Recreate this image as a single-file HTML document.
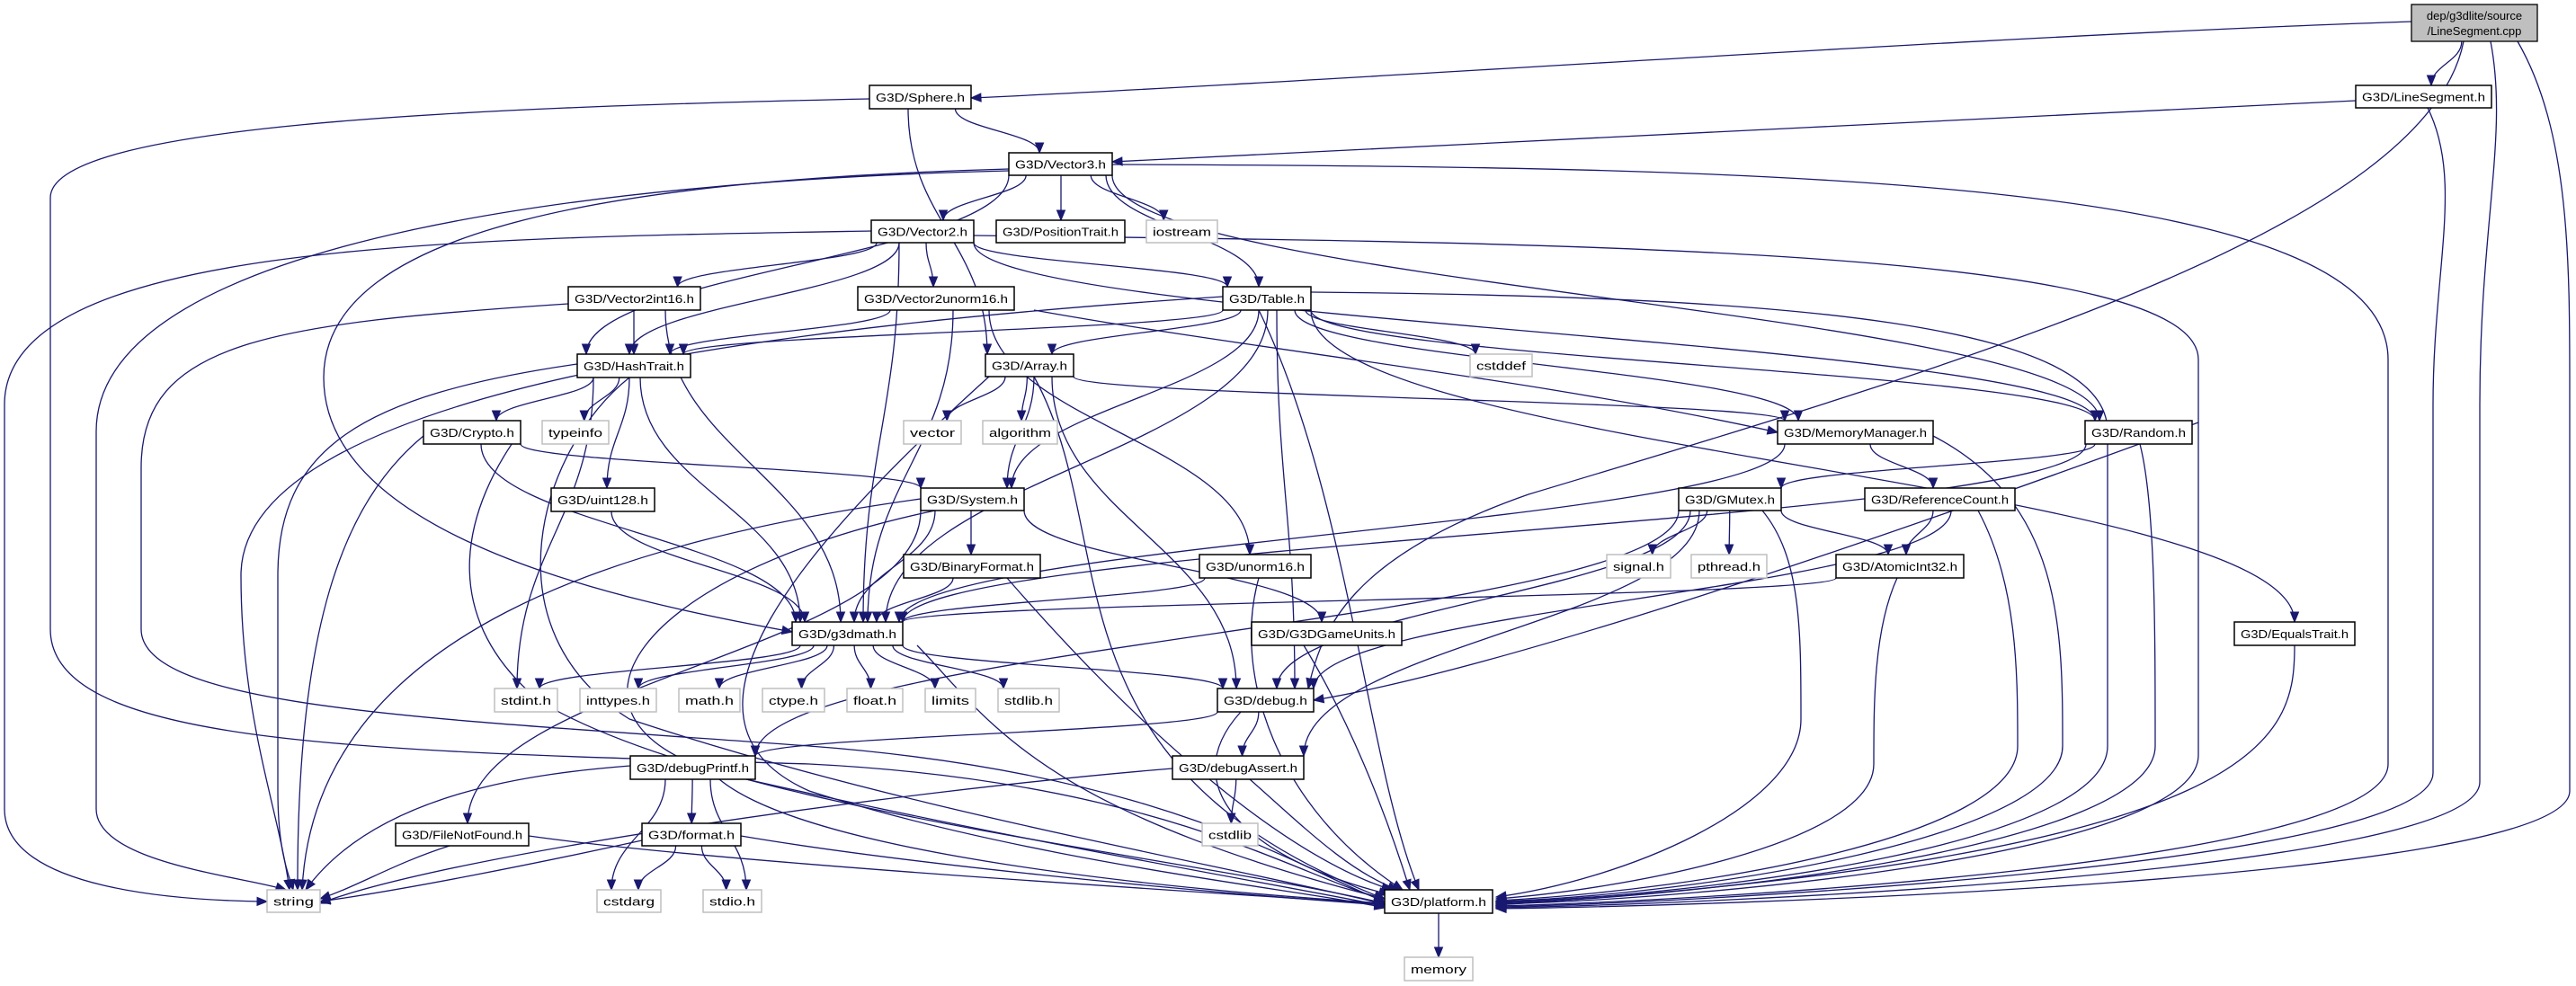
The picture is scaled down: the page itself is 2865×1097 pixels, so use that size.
<!DOCTYPE html>
<html><head><meta charset="utf-8"><style>
html,body{margin:0;padding:0;background:#fff;}
svg{display:block;}
text{font-family:"Liberation Sans","DejaVu Sans",sans-serif;font-size:13px;fill:#000;}
</style></head><body>
<svg id="g" width="2865" height="1097" viewBox="0 0 2865 1097" xmlns="http://www.w3.org/2000/svg">
<g id="edges" fill="none" stroke="#191970" stroke-width="1.3"></g>
<g id="arrows" fill="#191970" stroke="#191970" stroke-width="1"></g>
<g id="nodes">
<rect x="2682" y="5" width="140" height="41" fill="#bfbfbf" stroke="#000" stroke-width="1.3"/>
<text x="2752" y="22" text-anchor="middle">dep/g3dlite/source</text>
<text x="2752" y="39" text-anchor="middle">/LineSegment.cpp</text>
</g>
</svg>
<div style="display:none">
<span>G3D/Sphere.h</span><span>G3D/LineSegment.h</span><span>G3D/Vector3.h</span><span>G3D/Vector2.h</span><span>G3D/PositionTrait.h</span><span>iostream</span><span>G3D/Vector2int16.h</span><span>G3D/Vector2unorm16.h</span><span>G3D/Table.h</span><span>G3D/HashTrait.h</span><span>G3D/Array.h</span><span>cstddef</span><span>G3D/Crypto.h</span><span>typeinfo</span><span>vector</span><span>algorithm</span><span>G3D/MemoryManager.h</span><span>G3D/Random.h</span><span>G3D/uint128.h</span><span>G3D/System.h</span><span>G3D/GMutex.h</span><span>G3D/ReferenceCount.h</span><span>G3D/BinaryFormat.h</span><span>G3D/unorm16.h</span><span>signal.h</span><span>pthread.h</span><span>G3D/AtomicInt32.h</span><span>G3D/g3dmath.h</span><span>G3D/G3DGameUnits.h</span><span>G3D/EqualsTrait.h</span><span>stdint.h</span><span>inttypes.h</span><span>math.h</span><span>ctype.h</span><span>float.h</span><span>limits</span><span>stdlib.h</span><span>G3D/debug.h</span><span>G3D/debugPrintf.h</span><span>G3D/debugAssert.h</span><span>G3D/FileNotFound.h</span><span>G3D/format.h</span><span>cstdlib</span><span>string</span><span>cstdarg</span><span>stdio.h</span><span>G3D/platform.h</span><span>memory</span>
</div>
<script>
var N={
cpp:[2682,5,2822,46],
Sphere:[967,95,1080,121,"G3D/Sphere.h"],
LineSeg:[2620,95,2771,120,"G3D/LineSegment.h"],
Vector3:[1122,170,1237,195,"G3D/Vector3.h"],
Vector2:[969,245,1083,270,"G3D/Vector2.h"],
PositionTrait:[1108,245,1251,270,"G3D/PositionTrait.h"],
iostream:[1275,245,1354,270,"iostream",1],
Vector2int16:[632,319,779,345,"G3D/Vector2int16.h"],
Vector2unorm16:[954,319,1128,345,"G3D/Vector2unorm16.h"],
Table:[1360,319,1458,345,"G3D/Table.h"],
HashTrait:[642,394,768,420,"G3D/HashTrait.h"],
Array:[1096,394,1194,419,"G3D/Array.h"],
cstddef:[1635,394,1704,419,"cstddef",1],
Crypto:[471,468,579,494,"G3D/Crypto.h"],
typeinfo:[603,468,677,494,"typeinfo",1],
vector:[1005,468,1069,494,"vector",1],
algorithm:[1093,468,1176,494,"algorithm",1],
MemoryManager:[1977,468,2150,494,"G3D/MemoryManager.h"],
Random:[2319,468,2438,494,"G3D/Random.h"],
uint128:[613,543,728,569,"G3D/uint128.h"],
System:[1024,543,1139,568,"G3D/System.h"],
GMutex:[1867,543,1981,568,"G3D/GMutex.h"],
ReferenceCount:[2074,543,2241,568,"G3D/ReferenceCount.h"],
BinaryFormat:[1005,617,1157,643,"G3D/BinaryFormat.h"],
unorm16:[1334,617,1458,643,"G3D/unorm16.h"],
signal:[1787,617,1858,643,"signal.h",1],
pthread:[1881,617,1965,643,"pthread.h",1],
AtomicInt32:[2042,617,2184,643,"G3D/AtomicInt32.h"],
g3dmath:[881,692,1004,718,"G3D/g3dmath.h"],
G3DGameUnits:[1392,692,1559,718,"G3D/G3DGameUnits.h"],
EqualsTrait:[2485,692,2619,718,"G3D/EqualsTrait.h"],
stdint:[550,766,620,792,"stdint.h",1],
inttypes:[645,766,730,792,"inttypes.h",1],
math:[755,766,823,792,"math.h",1],
ctype:[848,766,917,792,"ctype.h",1],
float:[942,766,1004,792,"float.h",1],
limits:[1029,766,1085,792,"limits",1],
stdlib:[1110,766,1178,792,"stdlib.h",1],
debug:[1354,766,1461,792,"G3D/debug.h"],
debugPrintf:[701,841,840,867,"G3D/debugPrintf.h"],
debugAssert:[1304,841,1450,867,"G3D/debugAssert.h"],
FileNotFound:[440,916,588,941,"G3D/FileNotFound.h"],
format:[714,916,824,941,"G3D/format.h"],
cstdlib:[1337,916,1399,941,"cstdlib",1],
string:[297,990,356,1015,"string",1],
cstdarg:[664,990,735,1015,"cstdarg",1],
stdio:[782,990,847,1015,"stdio.h",1],
platform:[1540,990,1660,1016,"G3D/platform.h"],
memory:[1562,1065,1638,1091,"memory",1]
};
var NS="http://www.w3.org/2000/svg";
var gE=document.getElementById('edges'),gA=document.getElementById('arrows'),gN=document.getElementById('nodes');
function el(p,t,a){var e=document.createElementNS(NS,t);for(var k in a)e.setAttribute(k,a[k]);p.appendChild(e);return e;}
function arrow(x,y,dx,dy){var L=Math.hypot(dx,dy)||1;dx/=L;dy/=L;var l=11,w=4.5;
 var bx=x-dx*l,by=y-dy*l;
 el(gA,'polygon',{points:x+','+y+' '+(bx-dy*w)+','+(by+dx*w)+' '+(bx+dy*w)+','+(by-dx*w)});}
function path(d){
 var n=d.match(/-?[\d.]+/g).map(Number);var k=n.length;
 var ex=n[k-2],ey=n[k-1],cx=n[k-4],cy=n[k-3];
 var dx=ex-cx,dy=ey-cy,L=Math.hypot(dx,dy)||1;
 el(gE,'path',{d:d});
 arrow(ex,ey,dx,dy);}
function cl(v,a,b){return Math.max(a,Math.min(b,v));}
function E(a,b,o){o=o||{};var s=N[a],t=N[b];
 var scx=(s[0]+s[2])/2,tcx=(t[0]+t[2])/2;
 var sx=o.sx!=null?o.sx:cl(scx+(tcx-scx)*0.25,s[0]+6,s[2]-6),sy=s[3];
 var tx=o.tx!=null?o.tx:cl(tcx+(scx-tcx)*0.15,t[0]+6,t[2]-6),ty=t[1];
 var dy=ty-sy;var k=o.k||0.45;
 var d='M'+sx+','+sy+' C'+sx+','+(sy+dy*k)+' '+tx+','+(ty-dy*k)+' '+tx+','+ty;
 path(d);}
// generic edges
var G=[
['cpp','LineSeg'],['Sphere','Vector3'],['Vector3','Vector2'],['Vector3','PositionTrait',{sx:1180,tx:1180}],['Vector3','iostream'],
['Vector3','Table',{sx:1230,tx:1400}],['Vector3','Random',{sx:1237,tx:2335}],['Vector3','HashTrait',{sx:1122,tx:652}],
['Vector2','Vector2int16'],['Vector2','Vector2unorm16',{sx:1030,tx:1038}],['Vector2','HashTrait',{sx:1000,tx:700}],
['Vector2','Table',{sx:1083,tx:1365}],['Vector2','g3dmath',{sx:1000,tx:960}],['Vector2','Random',{sx:1083,tx:2330}],
['Vector2int16','HashTrait',{sx:705,tx:705}],['Vector2int16','g3dmath',{sx:740,tx:935}],
['Vector2unorm16','HashTrait',{sx:990,tx:745}],['Vector2unorm16','g3dmath',{sx:1060,tx:965}],['Vector2unorm16','unorm16',{sx:1100,tx:1390}],
['Table','Array',{sx:1380,tx:1170}],['Table','HashTrait',{sx:1360,tx:760}],['Table','cstddef'],['Table','MemoryManager',{sx:1440,tx:2000}],
['Table','System',{sx:1400,tx:1125}],['Table','g3dmath',{sx:1410,tx:985}],['Table','debug',{sx:1420,tx:1440}],['Table','Random',{sx:1458,tx:2330}],
['Table','EqualsTrait',{sx:1458,tx:2552}],
['HashTrait','Crypto'],['HashTrait','typeinfo'],['HashTrait','uint128',{sx:700,tx:675}],['HashTrait','g3dmath',{sx:712,tx:890}],['HashTrait','stdint',{sx:660,tx:575}],
['Crypto','System',{sx:579,tx:1024}],['Crypto','g3dmath',{sx:535,tx:885}],
['uint128','g3dmath',{sx:680,tx:895}],
['Sphere','Array',{sx:1010,tx:1098}],
['Array','vector'],['Array','algorithm'],['Array','System',{sx:1150,tx:1120}],['Array','MemoryManager',{sx:1194,tx:1985}],['Array','debug',{sx:1170,tx:1375}],
['MemoryManager','ReferenceCount',{sx:2080,tx:2150}],['MemoryManager','g3dmath',{sx:1985,tx:1000}],
['Random','GMutex',{sx:2330,tx:1981}],['Random','g3dmath',{sx:2320,tx:1004}],
['System','BinaryFormat',{sx:1080,tx:1080}],['System','g3dmath',{sx:1040,tx:950}],['System','G3DGameUnits',{sx:1139,tx:1470}],['System','FileNotFound',{sx:1024,tx:520}],
['BinaryFormat','g3dmath',{sx:1060,tx:975}],['unorm16','g3dmath',{sx:1340,tx:1004}],
['GMutex','signal'],['GMutex','pthread'],['GMutex','AtomicInt32',{sx:1981,tx:2100}],['GMutex','debugAssert',{sx:1890,tx:1450}],['GMutex','debug',{sx:1880,tx:1420}],['GMutex','debugPrintf',{sx:1867,tx:840}],
['ReferenceCount','AtomicInt32',{sx:2150,tx:2120}],['ReferenceCount','debug',{sx:2170,tx:1461}],
['AtomicInt32','g3dmath',{sx:2042,tx:1004}],
['g3dmath','stdint',{sx:890,tx:600}],['g3dmath','inttypes',{sx:905,tx:710}],['g3dmath','math',{sx:920,tx:800}],['g3dmath','ctype'],['g3dmath','float'],['g3dmath','limits'],['g3dmath','stdlib'],
['g3dmath','debug',{sx:1004,tx:1360}],
['debug','debugAssert'],['debug','debugPrintf',{sx:1354,tx:840}],
['debugAssert','cstdlib'],
['debugPrintf','format'],['debugPrintf','cstdarg',{sx:740,tx:680}],['debugPrintf','stdio',{sx:790,tx:830}],
['format','cstdarg'],['format','stdio'],
['platform','memory',{sx:1600,tx:1600}]
];
G.forEach(function(e){E(e[0],e[1],e[2]);});
// custom paths
var C=[
'M2682,24 C2200,40 1500,90 1080,109',
'M2620,112 C2200,130 1600,165 1237,180',
// to string
'M969,257 C500,265 5,270 5,450 L5,900 C5,990 200,1002 297,1003',
'M1122,190 C700,200 107,260 107,480 L107,900 C107,960 270,975 318,990',
'M1360,330 C900,360 268,430 268,640 C268,800 310,900 322,990',
'M642,405 C400,440 309,500 309,640 L309,880 C309,950 322,975 326,990',
'M471,485 C380,560 330,700 331,990',
'M1024,555 C700,600 350,700 336,990',
'M701,852 C600,860 420,880 340,990',
'M500,941 C440,960 400,985 356,1000',
'M714,935 C600,960 450,990 356,1003',
'M1304,855 C1000,880 500,950 356,1005',
// to g3dmath from far
'M1122,188 C700,200 360,250 360,420 C360,600 700,670 881,703',
// Sphere to platform far-left
'M967,110 C500,120 56,140 56,220 L56,700 C56,830 400,835 900,850 C1300,870 1450,980 1540,1000',
'M632,338 C300,360 157,380 157,520 L157,700 C157,790 500,800 900,830 C1300,860 1450,970 1540,1003',
'M579,480 C520,560 480,680 600,780 C800,900 1300,950 1540,1005',
'M700,420 C600,500 540,700 700,800 C1000,900 1350,960 1540,1006',
'M1040,568 C700,640 600,800 800,860 C1100,930 1400,980 1540,1008',
'M1100,419 C900,600 720,800 900,880 C1150,960 1450,990 1540,1010',
'M1150,419 C1250,600 1150,850 1540,1000',
'M1020,718 C1100,800 1150,900 1540,1000',
'M1120,643 C1300,850 1450,960 1548,990',
'M1400,643 C1370,750 1420,900 1560,990',
'M1450,718 C1500,800 1540,900 1568,990',
'M1380,792 C1300,880 1400,960 1545,995',
'M1390,867 C1450,920 1500,970 1555,990',
'M800,867 C900,950 1300,990 1540,1005',
'M588,930 C800,960 1300,990 1540,1006',
'M824,930 C1000,960 1300,990 1540,1007',
'M1400,345 C1500,550 1520,850 1578,990',
// right side to platform
'M1960,568 C2003,620 2003,700 2003,800 C2003,900 1800,980 1664,998',
'M2110,643 C2084,700 2084,780 2084,850 C2084,940 1800,990 1664,1000',
'M2200,568 C2244,650 2244,750 2244,830 C2244,930 1900,990 1664,1002',
'M2150,485 C2294,560 2294,700 2294,830 C2294,930 1900,995 1664,1003',
'M1458,325 C2000,330 2344,360 2344,480 L2344,830 C2344,940 1900,996 1664,1004',
'M2380,494 C2397,560 2397,700 2397,830 C2397,940 1900,998 1664,1005',
'M1083,262 C1800,270 2445,280 2445,400 L2445,840 C2445,950 1900,1000 1664,1006',
'M2552,718 C2552,820 2530,950 1664,1007',
'M1237,183 C2000,185 2656,200 2656,400 L2656,850 C2656,960 1900,1002 1664,1008',
'M2700,120 C2740,200 2706,300 2706,450 L2706,860 C2706,960 1900,1004 1664,1009',
'M2770,46 C2790,150 2758,250 2758,450 L2758,870 C2758,970 1900,1006 1664,1010',
'M2800,46 C2860,150 2858,300 2858,450 L2858,880 C2858,980 1900,1008 1664,1011',
'M2740,46 C2700,250 2200,400 1700,550 C1500,620 1470,700 1455,766',
'M2445,470 C2200,560 1700,740 1461,779',
'M1150,345 C1400,390 1700,420 1977,481'
];
C.forEach(path);
// nodes
for(var k in N){if(k=='cpp')continue;var n=N[k];var w=n[2]-n[0],h=n[3]-n[1];
 el(gN,'rect',{x:n[0],y:n[1],width:w,height:h,fill:'#fff',stroke:n[5]?'#bfbfbf':'#000','stroke-width':n[5]?1.5:1.5});
 var t=el(gN,'text',{x:(n[0]+n[2])/2,y:n[1]+h/2+5,'text-anchor':'middle',textLength:Math.max(10,w-14),lengthAdjust:'spacingAndGlyphs'});
 t.textContent=n[4];}
</script>
</body></html>
